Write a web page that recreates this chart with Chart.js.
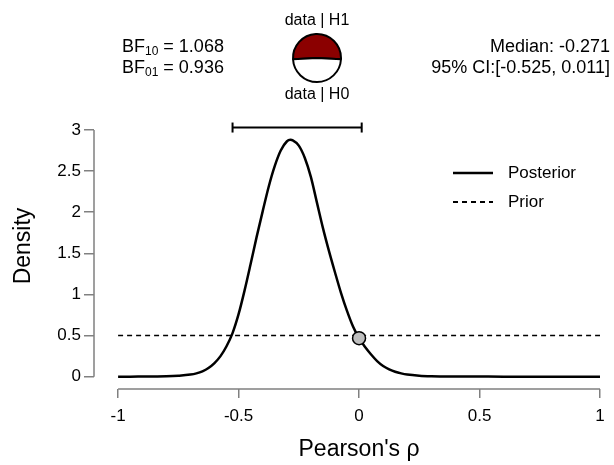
<!DOCTYPE html>
<html>
<head>
<meta charset="utf-8">
<script src="https://cdn.jsdelivr.net/npm/chart.js@4/dist/chart.umd.min.js"></script>
<style>
html, body { margin: 0; padding: 0; background: #fff; }
#wrap { position: relative; width: 614px; height: 465px; }
#mainChart { position: absolute; left: 0; top: 0; }
#pieChart { position: absolute; left: 291px; top: 32px; }
</style>
</head>
<body>
<div id="wrap">
  <canvas id="mainChart" width="614" height="465"></canvas>
  <canvas id="pieChart" width="52" height="52"></canvas>
</div>
<script>
// posterior density of rho
const posteriorRho = [-1, -0.95, -0.9, -0.85, -0.8, -0.75, -0.7, -0.675, -0.65, -0.625, -0.6, -0.575, -0.55, -0.525,
  -0.5, -0.475, -0.45, -0.425, -0.4, -0.375, -0.35, -0.325, -0.3, -0.285, -0.275, -0.25, -0.225, -0.2, -0.175, -0.15,
  -0.125, -0.1, -0.075, -0.05, -0.025, 0, 0.025, 0.05, 0.075, 0.1, 0.125, 0.15, 0.175, 0.2, 0.25, 0.3, 0.4, 0.5,
  0.6, 0.7, 0.8, 0.9, 1];
const posteriorDensity = [0, 0, 0.001, 0.002, 0.004, 0.011, 0.025, 0.04, 0.065, 0.105, 0.165, 0.25, 0.37, 0.53,
  0.76, 1.05, 1.37, 1.7, 2.01, 2.31, 2.56, 2.75, 2.86, 2.88, 2.875, 2.81, 2.66, 2.43, 2.12, 1.81,
  1.53, 1.27, 1.02, 0.8, 0.61, 0.468, 0.36, 0.27, 0.19, 0.13, 0.09, 0.06, 0.04, 0.026, 0.012, 0.006, 0.002, 0.001,
  0, 0, 0, 0, 0];

const priorRho = [-1, 1];
const priorDensity = [0.5, 0.5];

// posterior at rho = 0 (the grey dot)
const pointRho = [0];
const pointDensity = [0.468];

// 95% credible interval bar
const ciRho = [-0.525, 0.011];
const ciLevel = [3.03, 3.03];

// Bayes factor pie: BF10 : 1
const pieLabels = ['data | H1', 'data | H0'];
const pieValues = [1.068, 1];

const xTicks = [-1, -0.5, 0, 0.5, 1];
const xTickLabels = ['-1', '-0.5', '0', '0.5', '1'];
const yTicks = [0, 0.5, 1, 1.5, 2, 2.5, 3];
const yTickLabels = ['0', '0.5', '1', '1.5', '2', '2.5', '3'];

const FONT = "'Liberation Sans', Arial, sans-serif";
const AXIS = '#808080';

function pts(xs, ys) {
    return xs.map((x, i) => ({ x: x, y: ys[i] }));
}

const extras = {
    id: 'extras',
    afterDraw(chart) {
        const ctx = chart.ctx;
        const xs = chart.scales.x, ys = chart.scales.y;
        const area = chart.chartArea;
        ctx.save();

        // R-style detached axis lines
        ctx.strokeStyle = AXIS;
        ctx.lineWidth = 1.5;
        ctx.beginPath();
        ctx.moveTo(xs.getPixelForValue(xTicks[0]), area.bottom);
        ctx.lineTo(xs.getPixelForValue(xTicks[xTicks.length - 1]), area.bottom);
        ctx.moveTo(area.left, ys.getPixelForValue(yTicks[0]));
        ctx.lineTo(area.left, ys.getPixelForValue(yTicks[yTicks.length - 1]));
        ctx.stroke();

        ctx.fillStyle = '#000';
        // axis titles
        ctx.font = '23px ' + FONT;
        ctx.textAlign = 'center';
        ctx.textBaseline = 'middle';
        const midX = (xs.getPixelForValue(xTicks[0]) + xs.getPixelForValue(xTicks[xTicks.length - 1])) / 2;
        ctx.fillText("Pearson's ρ", midX, 450);
        ctx.save();
        ctx.translate(24, 246);
        ctx.rotate(-Math.PI / 2);
        ctx.fillText('Density', 0, 0);
        ctx.restore();

        // Bayes factors, top left
        ctx.textAlign = 'left';
        const bf = [['10', ' = 1.068', 47], ['01', ' = 0.936', 68]];
        bf.forEach(([sub, rest, yy]) => {
            let x0 = 122;
            ctx.font = '18px ' + FONT;
            ctx.fillText('BF', x0, yy);
            x0 += ctx.measureText('BF').width;
            ctx.font = '12px ' + FONT;
            ctx.fillText(sub, x0, yy + 5);
            x0 += ctx.measureText(sub).width;
            ctx.font = '18px ' + FONT;
            ctx.fillText(rest, x0, yy);
        });

        // median and CI, top right
        ctx.textAlign = 'right';
        ctx.fillText('Median: -0.271', 610, 47);
        ctx.fillText('95% CI:[-0.525, 0.011]', 610, 68);

        // pie labels
        ctx.textAlign = 'center';
        ctx.font = '16px ' + FONT;
        ctx.fillText(pieLabels[0], 317, 21);
        ctx.fillText(pieLabels[1], 317, 95);

        // legend
        ctx.strokeStyle = '#000';
        ctx.lineWidth = 2.5;
        ctx.beginPath();
        ctx.moveTo(453, 173);
        ctx.lineTo(493, 173);
        ctx.stroke();
        ctx.lineWidth = 2;
        ctx.setLineDash([5, 4]);
        ctx.beginPath();
        ctx.moveTo(453, 202);
        ctx.lineTo(493, 202);
        ctx.stroke();
        ctx.setLineDash([]);
        ctx.textAlign = 'left';
        ctx.font = '17px ' + FONT;
        ctx.fillText('Posterior', 508, 173);
        ctx.fillText('Prior', 508, 202);

        ctx.restore();
    }
};

new Chart(document.getElementById('mainChart'), {
    type: 'scatter',
    data: {
        datasets: [
            {
                label: 'BF point',
                data: pts(pointRho, pointDensity),
                pointRadius: 6.5,
                pointBackgroundColor: '#BEBEBE',
                pointBorderColor: '#000',
                pointBorderWidth: 1.5,
                showLine: false,
            },
            {
                label: 'Posterior',
                data: pts(posteriorRho, posteriorDensity),
                showLine: true,
                borderColor: '#000',
                borderWidth: 2.5,
                pointRadius: 0,
                cubicInterpolationMode: 'monotone',
            },
            {
                label: 'CI',
                data: pts(ciRho, ciLevel),
                showLine: true,
                borderColor: '#000',
                borderWidth: 2,
                pointStyle: 'line',
                pointRotation: 90,
                pointRadius: 5,
                pointBorderColor: '#000',
                pointBorderWidth: 2,
                clip: false,
            },
            {
                label: 'Prior',
                data: pts(priorRho, priorDensity),
                showLine: true,
                borderColor: '#000',
                borderWidth: 1.5,
                borderDash: [5, 4],
                pointRadius: 0,
            },
        ],
    },
    options: {
        responsive: false,
        animation: false,
        events: [],
        layout: { padding: { top: 130, right: 14, left: 0, bottom: 0 } },
        plugins: { legend: { display: false }, tooltip: { enabled: false } },
        scales: {
            x: {
                type: 'linear',
                min: -1.1,
                max: 1,
                afterBuildTicks: s => { s.ticks = xTicks.map(v => ({ value: v })); },
                afterFit: s => { s.height = 76; },
                border: { display: false },
                grid: { drawOnChartArea: false, tickLength: 9, color: AXIS, lineWidth: 1.5 },
                ticks: {
                    callback: (v, i) => xTickLabels[i],
                    font: { family: FONT, size: 17 },
                    color: '#000',
                    padding: 8,
                    maxRotation: 0,
                    autoSkip: false,
                },
            },
            y: {
                type: 'linear',
                min: -0.15,
                max: 3,
                afterBuildTicks: s => { s.ticks = yTicks.map(v => ({ value: v })); },
                afterFit: s => { s.width = 94; },
                border: { display: false },
                grid: { drawOnChartArea: false, tickLength: 10, color: AXIS, lineWidth: 1.5 },
                ticks: {
                    callback: (v, i) => yTickLabels[i],
                    font: { family: FONT, size: 17 },
                    color: '#000',
                    padding: 3,
                    autoSkip: false,
                },
            },
        },
    },
    plugins: [extras],
});

new Chart(document.getElementById('pieChart'), {
    type: 'pie',
    data: {
        labels: pieLabels,
        datasets: [{
            data: pieValues,
            backgroundColor: ['#8B0000', '#FFFFFF'],
            borderColor: '#000',
            borderWidth: 2,
        }],
    },
    options: {
        responsive: false,
        animation: false,
        events: [],
        rotation: -93,
        layout: { padding: 1 },
        plugins: { legend: { display: false }, tooltip: { enabled: false } },
    },
});
</script>
</body>
</html>
